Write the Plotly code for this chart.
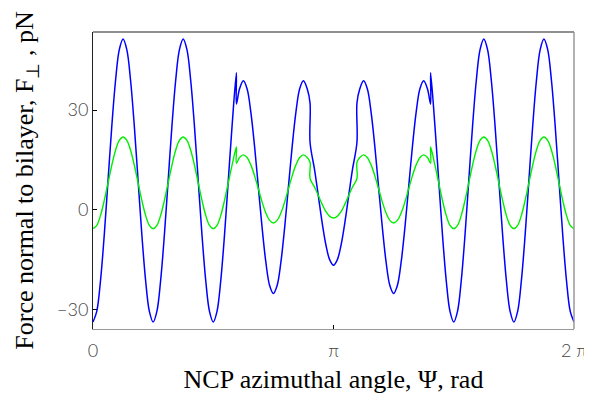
import plotly.graph_objects as go

# azimuthal angle samples (rad); repeated values mark jumps in the force curves
psi = [0.0000, 0.0491, 0.0982, 0.1473, 0.1963, 0.2454, 0.2945, 0.3436,
       0.3927, 0.4418, 0.4909, 0.5400, 0.5890, 0.6381, 0.6872, 0.7363,
       0.7854, 0.8345, 0.8836, 0.9327, 0.9817, 1.0308, 1.0799, 1.1290,
       1.1781, 1.2272, 1.2763, 1.3254, 1.3744, 1.4235, 1.4726, 1.5217,
       1.5708, 1.6199, 1.6690, 1.7181, 1.7671, 1.8162, 1.8732, 1.8732,
       1.9144, 1.9635, 2.0126, 2.0617, 2.1108, 2.1598, 2.2089, 2.2580,
       2.3071, 2.3562, 2.4053, 2.4544, 2.5035, 2.5525, 2.6016, 2.6507,
       2.6998, 2.7489, 2.7980, 2.8353, 2.8353, 2.8962, 2.9452, 2.9943,
       3.0434, 3.0925, 3.1416, 3.1907, 3.2398, 3.2889, 3.3379, 3.3870,
       3.4479, 3.4479, 3.4852, 3.5343, 3.5834, 3.6325, 3.6816, 3.7306,
       3.7797, 3.8288, 3.8779, 3.9270, 3.9761, 4.0252, 4.0743, 4.1233,
       4.1724, 4.2215, 4.2706, 4.3197, 4.3688, 4.4100, 4.4100, 4.4670,
       4.5160, 4.5651, 4.6142, 4.6633, 4.7124, 4.7615, 4.8106, 4.8597,
       4.9087, 4.9578, 5.0069, 5.0560, 5.1051, 5.1542, 5.2033, 5.2524,
       5.3014, 5.3505, 5.3996, 5.4487, 5.4978, 5.5469, 5.5960, 5.6451,
       5.6941, 5.7432, 5.7923, 5.8414, 5.8905, 5.9396, 5.9887, 6.0378,
       6.0868, 6.1359, 6.1850, 6.2341, 6.2832]

# total normal force (blue), pN
force_total = [-33.8, -30.6, -21.3, -7.5, 8.8, 25.1, 38.9, 48.2,
               51.4, 48.2, 38.9, 25.1, 8.8, -7.5, -21.3, -30.6,
               -33.8, -30.6, -21.3, -7.5, 8.8, 25.1, 38.9, 48.2,
               51.4, 48.2, 38.9, 25.1, 8.8, -7.5, -21.3, -30.6,
               -33.8, -30.6, -21.3, -7.5, 8.8, 25.1, 41.2, 31.8,
               36.4, 38.8, 36.4, 29.4, 19.0, 6.8, -5.4, -15.8,
               -22.8, -25.2, -22.8, -15.8, -5.4, 6.8, 19.0, 29.4,
               36.4, 38.8, 36.4, 32.1, 20.3, 11.8, 3.9, -4.0,
               -10.7, -15.1, -16.7, -15.1, -10.7, -4.0, 3.9, 11.8,
               20.3, 32.1, 36.4, 38.8, 36.4, 29.4, 19.0, 6.8,
               -5.4, -15.8, -22.8, -25.2, -22.8, -15.8, -5.4, 6.8,
               19.0, 29.4, 36.4, 38.8, 36.4, 31.8, 41.2, 25.1,
               8.8, -7.5, -21.3, -30.6, -33.8, -30.6, -21.3, -7.5,
               8.8, 25.1, 38.9, 48.2, 51.4, 48.2, 38.9, 25.1,
               8.8, -7.5, -21.3, -30.6, -33.8, -30.6, -21.3, -7.5,
               8.8, 25.1, 38.9, 48.2, 51.4, 48.2, 38.9, 25.1,
               8.8, -7.5, -21.3, -30.6, -33.8]

# component normal force (green), pN
force_part = [-5.7, -4.7, -1.7, 2.8, 8.1, 13.4, 17.9, 20.9,
              21.9, 20.9, 17.9, 13.4, 8.1, 2.8, -1.7, -4.7,
              -5.7, -4.7, -1.7, 2.8, 8.1, 13.4, 17.9, 20.9,
              21.9, 20.9, 17.9, 13.4, 8.1, 2.8, -1.7, -4.7,
              -5.7, -4.7, -1.7, 2.8, 8.1, 13.4, 18.9, 14.0,
              15.7, 16.5, 15.7, 13.5, 10.2, 6.3, 2.3, -1.0,
              -3.2, -4.0, -3.2, -1.0, 2.3, 6.3, 10.2, 13.5,
              15.7, 16.5, 15.7, 14.3, 9.4, 6.7, 4.2, 1.6,
              -0.6, -2.0, -2.5, -2.0, -0.6, 1.6, 4.2, 6.7,
              9.4, 14.3, 15.7, 16.5, 15.7, 13.5, 10.2, 6.3,
              2.3, -1.0, -3.2, -4.0, -3.2, -1.0, 2.3, 6.3,
              10.2, 13.5, 15.7, 16.5, 15.7, 14.0, 18.9, 13.4,
              8.1, 2.8, -1.7, -4.7, -5.7, -4.7, -1.7, 2.8,
              8.1, 13.4, 17.9, 20.9, 21.9, 20.9, 17.9, 13.4,
              8.1, 2.8, -1.7, -4.7, -5.7, -4.7, -1.7, 2.8,
              8.1, 13.4, 17.9, 20.9, 21.9, 20.9, 17.9, 13.4,
              8.1, 2.8, -1.7, -4.7, -5.7]

x_tickvals = [0, 3.14159265, 6.28318531]
x_ticktext = ["0", "π", "2 π"]
y_tickvals = [-30, 0, 30]
y_ticktext = ["−30", "0", "30"]

fig = go.Figure()
fig.add_trace(go.Scatter(x=psi, y=force_total, mode="lines",
                         line=dict(color="#0000ff", width=1.5, shape="spline", smoothing=1),
                         showlegend=False))
fig.add_trace(go.Scatter(x=psi, y=force_part, mode="lines",
                         line=dict(color="#00ee00", width=1.4, shape="spline", smoothing=1),
                         showlegend=False))

tick_font = dict(family="Lato", size=18, color="#444444", weight=300)
title_font = dict(family="Liberation Serif", size=26, color="black")

# the page body adds an 8px offset, so the figure is 8px smaller than the window
fig.update_layout(
    width=584, height=388,
    margin=dict(l=85, r=18, t=24, b=67),
    paper_bgcolor="white", plot_bgcolor="white",
    xaxis=dict(range=[0, 6.28318531], tickvals=x_tickvals, ticktext=x_ticktext,
               ticks="inside", ticklen=4, tickcolor="black", tickwidth=1,
               showline=True, linecolor="#999999", linewidth=1, ticklabelstandoff=5,
               showgrid=False, zeroline=False, tickfont=tick_font, automargin=False,
               title=dict(text="NCP azimuthal angle, Ψ, rad", font=title_font, standoff=10)),
    yaxis=dict(range=[-35.9, 53.5], tickvals=y_tickvals, ticktext=y_ticktext,
               ticks="inside", ticklen=4, tickcolor="black", tickwidth=1,
               showline=True, linecolor="#222222", linewidth=1,
               showgrid=False, zeroline=False, tickfont=tick_font, automargin=False,
               title=dict(text="Force normal to bilayer, F<sub>⊥</sub> , pN", font=title_font, standoff=15)),
    shapes=[
        dict(type="line", xref="paper", yref="paper", x0=0, x1=1, y0=1, y1=1,
             line=dict(color="#222222", width=1.2)),
        dict(type="line", xref="paper", yref="paper", x0=1, x1=1, y0=0, y1=1,
             line=dict(color="#999999", width=1.5)),
    ],
)

fig.write_html("out.html")
